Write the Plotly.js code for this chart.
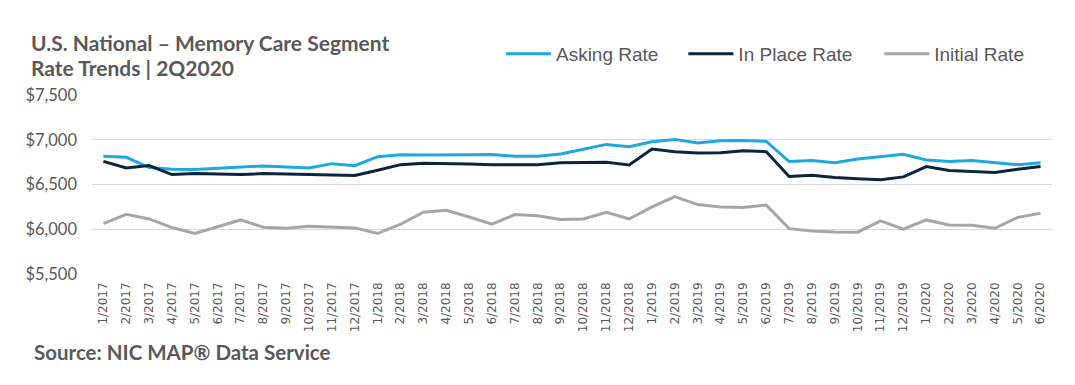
<!DOCTYPE html>
<html>
<head>
<meta charset="utf-8">
<script src="https://cdn.plot.ly/plotly-3.0.1.min.js"></script>
<style>html,body{margin:0;padding:0;background:#fff;}#chart{width:1075px;height:385px;}</style>
</head>
<body>
<div id="chart"></div>
<script>
const months = ["1/2017","2/2017","3/2017","4/2017","5/2017","6/2017","7/2017","8/2017","9/2017","10/2017","11/2017","12/2017",
"1/2018","2/2018","3/2018","4/2018","5/2018","6/2018","7/2018","8/2018","9/2018","10/2018","11/2018","12/2018",
"1/2019","2/2019","3/2019","4/2019","5/2019","6/2019","7/2019","8/2019","9/2019","10/2019","11/2019","12/2019",
"1/2020","2/2020","3/2020","4/2020","5/2020","6/2020"];
const askingRate = [6815,6804,6689,6670,6667,6681,6689,6707,6696,6685,6733,6711,
6811,6833,6830,6835,6833,6835,6815,6815,6840,6893,6948,6922,
6978,7004,6963,6989,6993,6981,6756,6767,6744,6785,6815,6837,
6774,6756,6767,6744,6722,6744];
const inPlaceRate = [6759,6685,6711,6611,6622,6615,6611,6622,6615,6611,6604,6600,
6659,6722,6737,6735,6728,6722,6722,6722,6744,6748,6748,6719,
6896,6867,6852,6856,6878,6867,6589,6604,6578,6563,6552,6585,
6700,6656,6644,6633,6670,6700];
const initialRate = [6063,6167,6115,6019,5952,6030,6104,6022,6011,6033,6026,6015,
5952,6056,6190,6212,6137,6056,6164,6150,6108,6115,6190,6115,
6250,6365,6276,6250,6244,6270,6007,5981,5970,5967,6093,6000,
6104,6048,6044,6011,6133,6178];
const yTicks = [5500,6000,6500,7000,7500];
const yTickText = ["$5,500","$6,000","$6,500","$7,000","$7,500"];

const traces = [
  {name:"Asking Rate", legend:"legend", x:months, y:askingRate, type:"scatter", mode:"lines", line:{color:"#1ea8e0", width:3}},
  {name:"In Place Rate", legend:"legend2", x:months, y:inPlaceRate, type:"scatter", mode:"lines", line:{color:"#0b2541", width:3}},
  {name:"Initial Rate", legend:"legend3", x:months, y:initialRate, type:"scatter", mode:"lines", line:{color:"#a6a6a6", width:3}}
];
const legFont = {family:"Liberation Sans, Arial, sans-serif", size:19, color:"#595959"};
function leg(x){
  return {orientation:"h", x:x, xanchor:"left", y:1.229, yanchor:"middle", font:legFont,
    itemwidth:45, borderwidth:0, bgcolor:"rgba(0,0,0,0)"};
}
const titleFont = {family:"Lato, Calibri, sans-serif", size:21, color:"#595959"};
const layout = {
  width:1075, height:385,
  margin:{l:92, r:23, t:95, b:111},
  paper_bgcolor:"#fff", plot_bgcolor:"#fff",
  showlegend:true,
  legend:leg(0.426), legend2:leg(0.616), legend3:leg(0.82),
  xaxis:{type:"category", range:[-0.5,41.5], tickangle:-90, showgrid:false, zeroline:false,
    showline:false, ticks:"", ticklabelstandoff:5,
    tickfont:{family:"DejaVu Sans, Verdana, sans-serif", size:12, color:"#595959"}},
  yaxis:{range:[5500,7500], tickvals:yTicks, ticktext:yTickText, showgrid:true, gridcolor:"#d9d9d9",
    gridwidth:1, zeroline:false, showline:false, ticks:"", ticklen:0, ticklabelstandoff:14,
    tickfont:{family:"Lato, Calibri, sans-serif", size:16.5, color:"#595959"}},
  annotations:[
    {xref:"paper", yref:"paper", x:-0.066, y:1.296, xanchor:"left", yanchor:"middle", align:"left", showarrow:false,
     text:"<b>U.S. National – Memory Care Segment</b>", font:titleFont},
    {xref:"paper", yref:"paper", x:-0.066, y:1.156, xanchor:"left", yanchor:"middle", align:"left", showarrow:false,
     text:"<b>Rate Trends | 2Q2020</b>", font:titleFont},
    {xref:"paper", yref:"paper", x:-0.062, y:-0.436, xanchor:"left", yanchor:"middle", align:"left", showarrow:false,
     text:"<b>Source: NIC MAP® Data Service</b>",
     font:{family:"Lato, Calibri, sans-serif", size:20.5, color:"#595959"}}
  ]
};
Plotly.newPlot("chart", traces, layout, {displayModeBar:false, staticPlot:true});
</script>
</body>
</html>
